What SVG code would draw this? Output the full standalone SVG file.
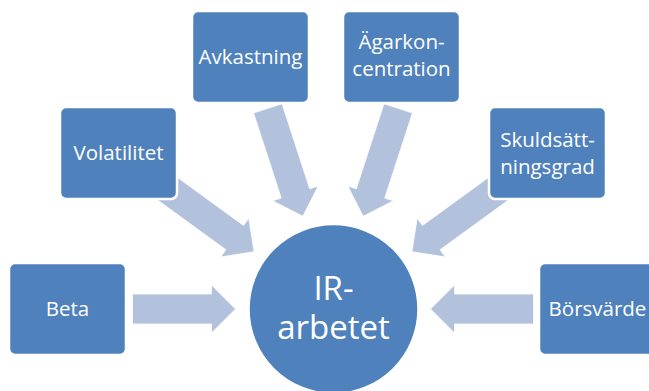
<svg xmlns="http://www.w3.org/2000/svg" width="649" height="391" viewBox="0 0 649 391">
  <defs>
    <style>
      .box { fill: #4F81BD; stroke: #FFFFFF; stroke-width: 2.5; }
      .arrow { fill: #B2C1DC; stroke: #FFFFFF; stroke-width: 0.75; }
      .lbl { font-family: "Open Sans", "Noto Sans", "DejaVu Sans", sans-serif; font-size: 20.5px; fill: #FFFFFF; text-anchor: middle; }
      .big { font-family: "Open Sans", "Noto Sans", "DejaVu Sans", sans-serif; font-size: 33px; fill: #FFFFFF; text-anchor: middle; }
    </style>
    <polygon id="arr" points="-200.5,-15 -121.5,-15 -121.5,-24 -97.5,0 -121.5,24 -121.5,15 -200.5,15"/>
    <polygon id="arrd" points="-211,-15 -121.5,-15 -121.5,-24 -97.5,0 -121.5,24 -121.5,15 -211,15"/>
  </defs>
  <rect width="649" height="391" fill="#FFFFFF"/>
  <g id="connectors" transform="translate(333,309)">
    <use href="#arr" class="arrow"/>
    <use href="#arrd" class="arrow" transform="rotate(36)"/>
    <use href="#arrd" class="arrow" transform="rotate(72)"/>
    <use href="#arrd" class="arrow" transform="rotate(108)"/>
    <use href="#arrd" class="arrow" transform="rotate(144)"/>
    <use href="#arr" class="arrow" transform="rotate(180)"/>
  </g>
  <g id="beta">
    <rect class="box" x="9" y="263" width="117" height="92" rx="6"/>
    <text class="lbl" x="67.5" y="316">Beta</text>
  </g>
  <g id="volatilitet">
    <rect class="box" x="60" y="107" width="117" height="92" rx="6"/>
    <text class="lbl" x="118.5" y="160">Volatilitet</text>
  </g>
  <g id="avkastning">
    <rect class="box" x="192" y="11" width="117" height="92" rx="6"/>
    <text class="lbl" x="250.5" y="64">Avkastning</text>
  </g>
  <g id="agarkoncentration">
    <rect class="box" x="343" y="11" width="117" height="92" rx="6"/>
    <text class="lbl" x="401.5" y="49">Ägarkon-</text>
    <text class="lbl" x="401.5" y="76">centration</text>
  </g>
  <g id="skuldsattningsgrad">
    <rect class="box" x="489" y="107" width="117" height="92" rx="6"/>
    <text class="lbl" x="547.5" y="147">Skuldsätt-</text>
    <text class="lbl" x="547.5" y="174">ningsgrad</text>
  </g>
  <g id="borsvarde">
    <rect class="box" x="539" y="263" width="117" height="92" rx="6"/>
    <text class="lbl" x="597.5" y="316">Börsvärde</text>
  </g>
  <g id="ir-arbetet">
    <circle cx="333.5" cy="309" r="84.5" fill="#4F81BD" stroke="#FFFFFF" stroke-width="1.5"/>
    <text class="big" x="333.5" y="300">IR-</text>
    <text class="big" x="333.5" y="339">arbetet</text>
  </g>
</svg>
